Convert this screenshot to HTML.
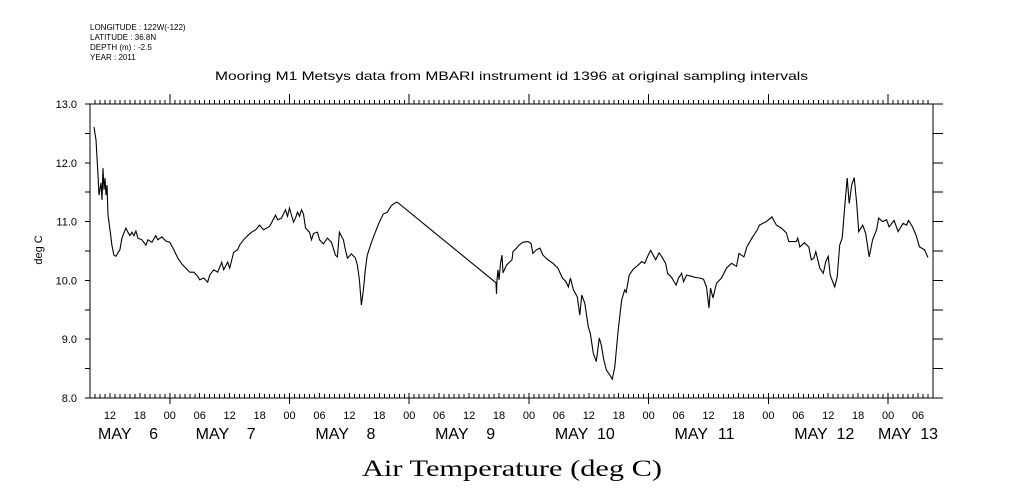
<!DOCTYPE html>
<html><head><meta charset="utf-8"><style>
body{margin:0;background:#fff;}
svg{display:block;font-family:"Liberation Sans",sans-serif;}
</style></head><body>
<svg id="chart" width="1009" height="504" viewBox="0 0 1009 504" xmlns="http://www.w3.org/2000/svg">
<g font-size="8" fill="#000">
<text x="90" y="30">LONGITUDE : 122W(-122)</text>
<text x="90" y="40">LATITUDE : 36.8N</text>
<text x="90" y="50">DEPTH (m) : -2.5</text>
<text x="90" y="60">YEAR : 2011</text>
</g>
<text x="215" y="80" font-size="12" textLength="593" lengthAdjust="spacingAndGlyphs">Mooring M1 Metsys data from MBARI instrument id 1396 at original sampling intervals</text>
<text transform="translate(42,250) rotate(-90)" font-size="11" text-anchor="middle">deg C</text>
<text x="362" y="476" font-size="23" textLength="300" lengthAdjust="spacingAndGlyphs" font-family="Liberation Serif, serif">Air Temperature (deg C)</text>
<g id="axes"></g>
<g id="series"></g>
</svg>
<script>
const hours=[8.8,9.2,9.6,9.8,10.2,10.4,10.6,10.8,11.0,11.2,11.4,11.6,12.0,12.4,12.8,13.2,13.6,14.0,14.4,15.2,15.6,16.0,16.4,16.8,17.2,17.6,18.4,19.2,19.6,20.4,21.2,21.6,22.4,23.2,24.0,24.8,25.6,26.4,27.2,28.0,28.8,29.6,30.0,30.8,31.6,32.0,32.8,33.6,34.4,34.8,35.6,36.0,36.8,37.6,38.0,38.8,39.6,40.4,41.2,42.0,42.8,44.0,45.2,45.6,46.4,47.2,47.6,48.0,48.4,48.8,49.2,49.6,50.0,50.4,50.8,51.2,52.0,52.4,52.8,53.6,54.0,54.8,55.6,56.4,57.2,57.6,58.0,58.8,59.2,59.6,60.4,61.2,61.6,62.0,62.4,62.8,63.2,63.6,64.4,65.2,66.0,66.8,67.6,68.4,69.2,69.6,
89.4,89.5,89.6,89.8,90.0,90.3,90.6,90.8,91.5,92.6,92.8,93.5,94.0,94.8,95.8,96.4,96.8,97.5,98.2,98.8,99.8,100.8,101.8,102.7,103.4,103.9,104.3,104.9,105.7,106.2,106.6,107.2,107.9,108.3,108.9,109.5,110.1,110.5,111.0,111.5,112.2,112.7,113.2,113.9,114.6,115.2,115.5,116.1,116.9,117.9,118.6,119.2,119.9,120.4,120.9,121.4,122.1,122.8,123.4,123.8,124.6,125.5,126.0,126.6,127.0,127.6,128.6,129.4,130.2,131.0,131.6,132.1,132.4,132.9,133.6,134.6,135.6,136.6,137.6,138.1,139.1,139.7,140.7,141.8,
142.2,143.6,144.7,145.6,146.6,147.6,148.1,149.6,149.9,150.3,151.2,152.1,152.6,153.1,153.5,154.3,155.0,155.5,156.0,156.4,157.3,157.8,158.3,158.8,159.3,159.8,160.2,160.7,161.2,161.7,162.1,162.9,163.5,164.2,164.9,165.7,166.1,166.9,167.7,168.2,169.2,170.0,171.0,171.7,172.1,172.9,173.6,174.3,175.3,176.0];
const temps=[12.61,12.39,11.79,11.45,11.66,11.37,11.91,11.54,11.74,11.45,11.62,11.11,10.86,10.60,10.43,10.41,10.47,10.52,10.72,10.89,10.82,10.76,10.82,10.76,10.84,10.72,10.69,10.60,10.69,10.65,10.76,10.69,10.74,10.67,10.65,10.52,10.38,10.28,10.21,10.14,10.14,10.07,10.01,10.04,9.97,10.09,10.18,10.14,10.31,10.18,10.31,10.21,10.48,10.52,10.60,10.69,10.76,10.82,10.86,10.94,10.86,10.92,11.11,11.03,11.06,11.20,11.09,11.23,11.11,10.99,11.06,11.16,11.09,11.20,11.13,10.89,10.82,10.69,10.80,10.82,10.69,10.62,10.72,10.65,10.43,10.40,10.82,10.69,10.52,10.38,10.45,10.38,10.26,10.01,9.58,9.84,10.18,10.43,10.64,10.82,10.99,11.13,11.16,11.27,11.32,11.33,
9.96,9.77,10.01,10.18,10.01,10.29,10.43,10.13,10.26,10.35,10.49,10.55,10.60,10.65,10.66,10.63,10.46,10.52,10.55,10.43,10.35,10.29,10.21,10.04,9.98,9.89,10.04,9.84,9.72,9.41,9.75,9.61,9.21,9.10,8.76,8.62,9.02,8.90,8.65,8.48,8.39,8.32,8.53,9.16,9.67,9.84,9.80,10.09,10.19,10.26,10.32,10.29,10.43,10.51,10.43,10.35,10.47,10.38,10.29,10.12,10.05,9.92,10.04,10.12,9.98,10.09,10.07,10.05,10.04,10.02,9.89,9.53,9.87,9.70,9.95,10.04,10.21,10.29,10.24,10.46,10.40,10.57,10.72,10.86,
10.94,11.00,11.08,10.94,10.89,10.81,10.66,10.66,10.72,10.57,10.64,10.57,10.35,10.38,10.49,10.21,10.12,10.32,10.41,10.09,9.89,10.06,10.60,10.72,11.25,11.74,11.31,11.62,11.75,11.31,10.83,10.94,10.80,10.40,10.69,10.86,11.06,11.00,11.03,10.91,11.02,10.83,10.97,10.94,11.02,10.91,10.77,10.57,10.52,10.39];
const yTicks=[8.0,9.0,10.0,11.0,12.0,13.0];
const hourLabels=["12","18","00","06","12","18","00","06","12","18","00","06","12","18","00","06","12","18","00","06","12","18","00","06","12","18","00","06","12","18","00","06","12","18","00","06","12","18","00","06"];
const dayLabels=["6","7","8","9","10","11","12","13"];

const L=90,R=933,T=104,B=398,H0=8,H1=177;
const x=h=>L+(h-H0)*(R-L)/(H1-H0);
const y=v=>B-(v-8)*(B-T)/5;
const NS="http://www.w3.org/2000/svg";
const ax=document.getElementById('axes');
function mk(tag,attrs,parent){const e=document.createElementNS(NS,tag);for(const k in attrs)e.setAttribute(k,attrs[k]);parent.appendChild(e);return e;}
let d=`M${L},${T}H${R}V${B}H${L}Z`;
for(let v=8;v<=13.001;v+=0.5){const yy=y(v);d+=`M${L-5},${yy}H${L}M${R},${yy}H${R+10}`;}
for(let h=9;h<H1;h++){const xx=x(h);const isDay=h%24===0;
 d+=`M${xx},${T}V${T-(isDay?10:4)}`;
 d+=`M${xx},${B}V${B-(h%6===0?5:4)}`;
 if(isDay)d+=`M${xx},${B}V${B+6}`;}
const frame=mk('path',{d:d,fill:'none',stroke:'#000','stroke-width':1,'shape-rendering':'crispEdges'},ax);


yTicks.forEach(v=>{const t=mk('text',{x:L-13,y:y(v)+4,'font-size':11,'text-anchor':'end'},ax);t.textContent=v.toFixed(1);
 
 });
hourLabels.forEach((s,i)=>{const h=12+i*6;if(h>=H1)return;const t=mk('text',{x:x(h),y:419,'font-size':11,'text-anchor':'middle'},ax);t.textContent=s;
 
 });
dayLabels.forEach((s,i)=>{let xs=x(12+24*i)-34;if(i===0)xs=98;if(i===7)xs=878;
 const g=mk('text',{x:xs,y:439,'font-size':16},ax);g.textContent='MAY';
 
 
 const n=mk('text',{x:xs+60,y:439,'font-size':16,'text-anchor':'end'},ax);n.textContent=s;
 
 });
const pts=hours.map((h,i)=>x(h).toFixed(1)+','+y(temps[i]).toFixed(1)).join(' ');
const line=mk('polyline',{points:pts,fill:'none',stroke:'#000','stroke-width':1.1},document.getElementById('series'));


</script>
</body></html>
